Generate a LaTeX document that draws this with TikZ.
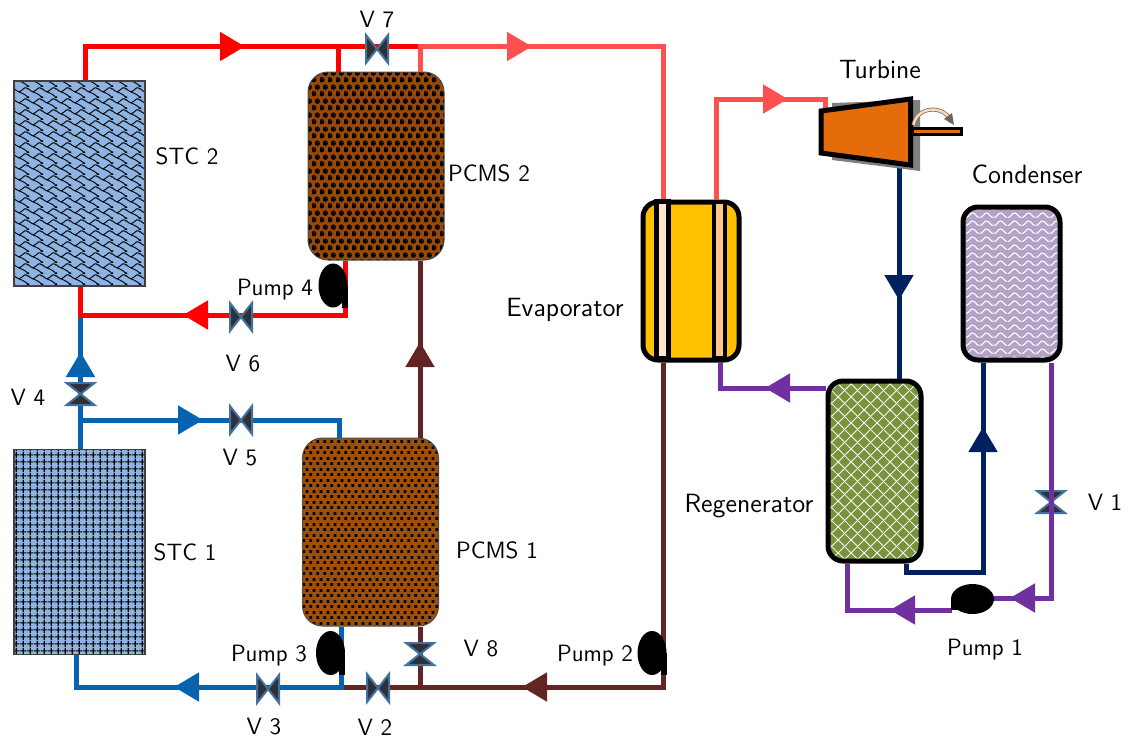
\documentclass[tikz,border=0pt]{standalone}
\usepackage{xcolor}
\usetikzlibrary{arrows.meta, calc, patterns, shapes.geometric}

\definecolor{pipered}{HTML}{FF0000}
\definecolor{pipehot}{HTML}{FF5050}
\definecolor{pipebrown}{HTML}{632523}
\definecolor{pipeblue}{HTML}{0563AF}
\definecolor{pipenavy}{HTML}{002060}
\definecolor{pipepurple}{HTML}{7030A0}
\definecolor{stcfill}{HTML}{8DB4E2}
\definecolor{pcmtwofill}{HTML}{984807}
\definecolor{pcmonefill}{HTML}{A04F08}
\definecolor{regenfill}{HTML}{77933C}
\definecolor{condfill}{HTML}{B3A2C7}
\definecolor{evapfill}{HTML}{FFC000}
\definecolor{turbfill}{HTML}{E46C0A}
\definecolor{valveline}{HTML}{41719C}
\definecolor{valvefill}{HTML}{2F3038}

% fill patterns of the stores
\pgfdeclarepatternformonly{stcgrid}{\pgfpointorigin}{\pgfqpoint{3.3pt}{3.3pt}}{\pgfqpoint{3.3pt}{3.3pt}}{
  \pgfsetlinewidth{0.65pt}
  \pgfpathmoveto{\pgfqpoint{1.65pt}{0pt}}\pgfpathlineto{\pgfqpoint{1.65pt}{3.3pt}}
  \pgfpathmoveto{\pgfqpoint{0pt}{1.65pt}}\pgfpathlineto{\pgfqpoint{3.3pt}{1.65pt}}
  \pgfusepath{stroke}}
\newcommand{\scalept}[2]{\pgfqpoint{#1pt}{#2pt}}
\pgfdeclarepatternformonly{stcscale}{\pgfpointorigin}{\pgfqpoint{7pt}{5.7pt}}{\pgfqpoint{7pt}{5.7pt}}{
  \pgfsetlinewidth{0.5pt}
  \pgfsetroundjoin
  \pgftransformcm{0.9333}{0}{0}{0.76}{\pgfpointorigin}
  \pgfpathmoveto{\scalept{-1.4}{7.03}}
  \pgfpathlineto{\scalept{-0.47}{7.03}}\pgfpathlineto{\scalept{0.47}{6.09}}
  \pgfpathlineto{\scalept{1.41}{5.16}}\pgfpathlineto{\scalept{2.81}{4.22}}
  \pgfpathlineto{\scalept{4.22}{5.16}}\pgfpathlineto{\scalept{5.16}{6.09}}
  \pgfpathlineto{\scalept{6.09}{7.03}}\pgfpathlineto{\scalept{7.03}{7.03}}
  \pgfpathlineto{\scalept{7.97}{6.09}}
  \pgfpathmoveto{\scalept{2.81}{4.22}}
  \pgfpathlineto{\scalept{4.69}{3.28}}\pgfpathlineto{\scalept{6.09}{2.34}}
  \pgfpathlineto{\scalept{7.03}{1.41}}\pgfpathlineto{\scalept{7.97}{0.47}}
  \pgfpathlineto{\scalept{7.03}{-0.47}}
  \pgfpathmoveto{\scalept{-1.41}{2.34}}
  \pgfpathlineto{\scalept{-0.47}{1.41}}\pgfpathlineto{\scalept{0.47}{0.47}}
  \pgfpathlineto{\scalept{-0.47}{-0.47}}
  \pgfusepath{stroke}}
\pgfdeclarepatternformonly{pcmball}{\pgfpointorigin}{\pgfqpoint{4pt}{7pt}}{\pgfqpoint{4pt}{7pt}}{
  \pgfseteorule
  \pgfpathcircle{\pgfqpoint{1pt}{1.75pt}}{1.45pt}
  \pgfpathcircle{\pgfqpoint{1.45pt}{2.3pt}}{0.4pt}
  \pgfpathcircle{\pgfqpoint{3pt}{5.25pt}}{1.45pt}
  \pgfpathcircle{\pgfqpoint{3.45pt}{5.8pt}}{0.4pt}
  \pgfusepath{fill}}
\pgfdeclarepatternformonly{pcmdot}{\pgfpointorigin}{\pgfqpoint{3.6pt}{5.5pt}}{\pgfqpoint{3.6pt}{5.5pt}}{
  \pgfpathrectangle{\pgfqpoint{0.2pt}{0.6pt}}{\pgfqpoint{1.5pt}{1.5pt}}
  \pgfpathrectangle{\pgfqpoint{2pt}{3.35pt}}{\pgfqpoint{1.5pt}{1.5pt}}
  \pgfusepath{fill}}
\pgfdeclarepatternformonly{condwave}{\pgfpointorigin}{\pgfqpoint{7pt}{4.1pt}}{\pgfqpoint{7pt}{4.1pt}}{
  \pgfsetlinewidth{0.6pt}
  \pgfpathmoveto{\pgfqpoint{0pt}{0.8pt}}
  \pgfpathcurveto{\pgfqpoint{1.4pt}{0.8pt}}{\pgfqpoint{2.1pt}{3.3pt}}{\pgfqpoint{3.5pt}{3.3pt}}
  \pgfpathcurveto{\pgfqpoint{4.9pt}{3.3pt}}{\pgfqpoint{5.6pt}{0.8pt}}{\pgfqpoint{7pt}{0.8pt}}
  \pgfusepath{stroke}}
\pgfdeclarepatternformonly{regenmesh}{\pgfpointorigin}{\pgfqpoint{6.5pt}{6.5pt}}{\pgfqpoint{6.5pt}{6.5pt}}{
  \pgfsetlinewidth{0.45pt}
  \pgfpathmoveto{\pgfqpoint{-0.5pt}{-0.5pt}}\pgfpathlineto{\pgfqpoint{7pt}{7pt}}
  \pgfpathmoveto{\pgfqpoint{-0.5pt}{7pt}}\pgfpathlineto{\pgfqpoint{7pt}{-0.5pt}}
  \pgfusepath{stroke}}

\begin{document}
\begin{tikzpicture}[
    x=0.5pt, y=-0.5pt,
    lab/.style={font=\sffamily\fontsize{11.8}{14}\selectfont, inner sep=0pt},
    biglab/.style={font=\sffamily\fontsize{13.2}{15}\selectfont, inner sep=0pt},
    stc/.style={rectangle, draw=black!75, line width=0.7pt, minimum width=65.5pt, minimum height=102.5pt,
                preaction={fill=stcfill}, pattern color=black},
    store/.style={rectangle, rounded corners=10pt, draw=black!70, line width=0.5pt,
                  minimum width=68pt, minimum height=94pt, pattern color=black},
    vessel/.style={rectangle, rounded corners=7.5pt, draw=black, line width=2.5pt},
    pipe/.style={line width=2.5pt},
    tipflow/.style={-{Triangle[length=12.5pt,width=14pt]}},
    pump/.style={ellipse, fill=black, inner sep=0pt, minimum width=14.5pt, minimum height=22pt},
    valve/.pic={\draw[draw=valveline, fill=valvefill, line width=1pt]
                (-11,-14) -- (11,14) -- (11,-14) -- (-11,14) -- cycle;},
]
\useasboundingbox (0,0) rectangle (1138,740);

% collectors and stores
\node[stc, pattern=stcscale] (stctwo) at (79.5,183.5) {};
\node[stc, pattern=stcgrid] (stcone) at (79.5,552) {};
\node[store, preaction={fill=pcmtwofill}, pattern=pcmball] (pcmstwo) at (376,166) {};
\node[store, preaction={fill=pcmonefill}, pattern=pcmdot] (pcmsone) at (370.5,532) {};
% cycle components
\node[vessel, minimum width=48pt, minimum height=79pt, fill=evapfill] (evap) at (691,281) {};
\node[vessel, minimum width=48.5pt, minimum height=76.5pt, preaction={fill=condfill}, pattern=condwave, pattern color=white] (cond) at (1011.5,283.5) {};
\node[vessel, minimum width=46.5pt, minimum height=90pt, preaction={fill=regenfill}, pattern=regenmesh, pattern color=white] (regen) at (874.5,471) {};

% junctions and arrow tips
\coordinate (ra) at (85,46.5);
\coordinate (rb) at (245,46.5);
\coordinate (rc) at (338,46.5);
\coordinate (rd) at (420,46.5);
\coordinate (hb) at (532,46.5);
\coordinate (hc) at (663,46.5);
\coordinate (hd) at (716,99);
\coordinate (he) at (788,99);
\coordinate (hf) at (825,99);
\coordinate (turbin) at (825,110);
\coordinate (turbout) at (899,167);
\coordinate (ka) at (345,315);
\coordinate (kb) at (183,315);
\coordinate (kc) at (80,315);
\coordinate (ba) at (80.5,420);
\coordinate (bb) at (80.5,352);
\coordinate (bc) at (203,420);
\coordinate (bd) at (339,420);
\coordinate (be) at (341,687);
\coordinate (bf) at (174,687);
\coordinate (bg) at (76,687);
\coordinate (da) at (420,342);
\coordinate (db) at (663,687);
\coordinate (dc) at (522,687);
\coordinate (dd) at (420,687);
\coordinate (de) at (341,687);
\coordinate (na) at (899,300);
\coordinate (nb) at (906,572);
\coordinate (nc) at (983,572);
\coordinate (nd) at (983,427);
\coordinate (pa) at (1051,598);
\coordinate (pb) at (1010,598);
\coordinate (pc) at (952,610);
\coordinate (pd) at (890,610);
\coordinate (pe) at (847,610);
\coordinate (pf) at (720,388);
\coordinate (pg) at (765,388);

% valve under the purple line
\coordinate (vone) at (1051,502);
\pic[rotate=90] at (vone) {valve};

% brown loop
\draw[pipe, pipebrown] (evap.south -| db) -- (db) -- (de);
\draw[pipe, pipebrown, tipflow] (db) -- (dc);
\draw[pipe, pipebrown] (dd) -- (dd |- pcmsone.south);
\draw[pipe, pipebrown] (da |- pcmsone.north) -- (da |- pcmstwo.south);
\draw[pipe, pipebrown, tipflow] (da |- pcmsone.north) -- (da);
% blue loop
\draw[pipe, pipeblue] (ba |- stcone.north) -- (ba) -- (ba |- kc);
\draw[pipe, pipeblue, tipflow] (ba) -- (bb);
\draw[pipe, pipeblue] (ba) -- (bd) -- (bd |- pcmsone.north);
\draw[pipe, pipeblue, tipflow] (ba) -- (bc);
\draw[pipe, pipeblue] (be |- pcmsone.south) -- (be) -- (bg) -- (bg |- stcone.south);
\draw[pipe, pipeblue, tipflow] (be) -- (bf);
% red loop
\draw[pipe, pipered] (ra |- stctwo.north) -- (ra) -- (rd);
\draw[pipe, pipered, tipflow] (ra) -- (rb);
\draw[pipe, pipered] (rc) -- (rc |- pcmstwo.north);
\draw[pipe, pipered] (ka |- pcmstwo.south) -- (ka) -- (kc) -- (kc |- stctwo.south);
\draw[pipe, pipered, tipflow] (ka) -- (kb);
% hot line
\draw[pipe, pipehot] (rd |- pcmstwo.north) -- (rd) -- (hc) -- (hc |- evap.north);
\draw[pipe, pipehot, tipflow] (rd) -- (hb);
\draw[pipe, pipehot] (hd |- evap.north) -- (hd) -- (hf) -- (turbin);
\draw[pipe, pipehot, tipflow] (hd) -- (he);
% navy line
\draw[pipe, pipenavy] (turbout) -- (na |- regen.north);
\draw[pipe, pipenavy, tipflow] (turbout) -- (na);
\draw[pipe, pipenavy] (nb |- regen.south) -- (nb) -- (nc) -- (nc |- cond.south);
\draw[pipe, pipenavy, tipflow] (nc) -- (nd);
% purple line
\draw[pipe, pipepurple] (pa |- cond.south) -- (pa) -- (pc |- pa);
\draw[pipe, pipepurple, tipflow] (pa) -- (pb);
\draw[pipe, pipepurple] (pc) -- (pe) -- (pe |- regen.south);
\draw[pipe, pipepurple, tipflow] (pc) -- (pd);
\draw[pipe, pipepurple] (regen.west |- pg) -- (pf) -- (pf |- evap.south);
\draw[pipe, pipepurple, tipflow] (regen.west |- pg) -- (pg);

% evaporator tubes
\draw[line width=2.5pt, fill=orange!20!white] (656.8,201) rectangle (668.2,358);
\draw[line width=2pt, fill=orange!45!white] (714,202) rectangle (725,358);

% turbine
\fill[black!50] (832,103) -- (920,100) -- (920,171) -- (832,160) -- cycle;
\draw[line width=2.5pt, fill=turbfill, line join=miter] (821,111) -- (910.5,99) -- (910.5,165) -- (821,153) -- cycle;
\draw[line width=1.5pt, fill=turbfill] (912,128.5) rectangle (961.5,134.5);
\draw[black!55, line width=2pt] (913.5,125) .. controls (917,105) and (946,105) .. (951,122);
\draw[orange!30!white, line width=1.2pt] (913.5,125) .. controls (917,105) and (946,105) .. (951,122);
\fill[black!60] (954,125) -- (944,119) -- (952,113) -- cycle;

% valves
\coordinate (vtwo) at (378,688);
\coordinate (vthree) at (268,689);
\coordinate (vfour) at (80.5,394);
\coordinate (vfive) at (241,420);
\coordinate (vsix) at (241,317);
\coordinate (vseven) at (377,49);
\coordinate (veight) at (420,654);
\pic at (vtwo) {valve};
\pic at (vthree) {valve};
\pic[rotate=90] at (vfour) {valve};
\pic at (vfive) {valve};
\pic at (vsix) {valve};
\pic at (vseven) {valve};
\pic[rotate=90] at (veight) {valve};

% pumps
\node[pump] (pumpone) at (972.5,599) [minimum width=21.5pt, minimum height=15pt] {};
\node[pump] (pumptwo) at (652,653) {};
\node[pump] (pumpthree) at (330.5,653) {};
\node[pump] (pumpfour) at (333,285.5) {};
\foreach \p in {pumptwo, pumpthree, pumpfour}
  \fill (\p.east) ++(-6,0) rectangle ++(6,22);
\fill (pumpone.west) ++(0,0) rectangle ++(20,11);

% labels
\node[lab] (lstctwo) at (187,156) {STC 2};
\node[lab] (lstcone) at (185,552) {STC 1};
\node[lab] (lpcmstwo) at (489,173) {PCMS 2};
\node[lab] (lpcmsone) at (497,550) {PCMS 1};
\node[biglab] (levap) at (565,310) {Evaporator};
\node[biglab] (lregen) at (749,506) {Regenerator};
\node[biglab] (lturb) at (880,69) {Turbine};
\node[biglab] (lcond) at (1027,174) {Condenser};
\node[lab] (lpumpone) at (985,650) {Pump 1};
\node[lab] (lpumptwo) at (595,656) {Pump 2};
\node[lab] (lpumpthree) at (269,656) {Pump 3};
\node[lab] (lpumpfour) at (275,290) {Pump 4};
\node[lab] (lvone) at (1105,502) {V 1};
\node[lab] (lvtwo) at (375,727) {V 2};
\node[lab] (lvthree) at (264,727) {V 3};
\node[lab] (lvfour) at (28,397) {V 4};
\node[lab] (lvfive) at (240,458) {V 5};
\node[lab] (lvsix) at (243,364) {V 6};
\node[lab] (lvseven) at (377,19) {V 7};
\node[lab] (lveight) at (481,649) {V 8};
\end{tikzpicture}
\end{document}
